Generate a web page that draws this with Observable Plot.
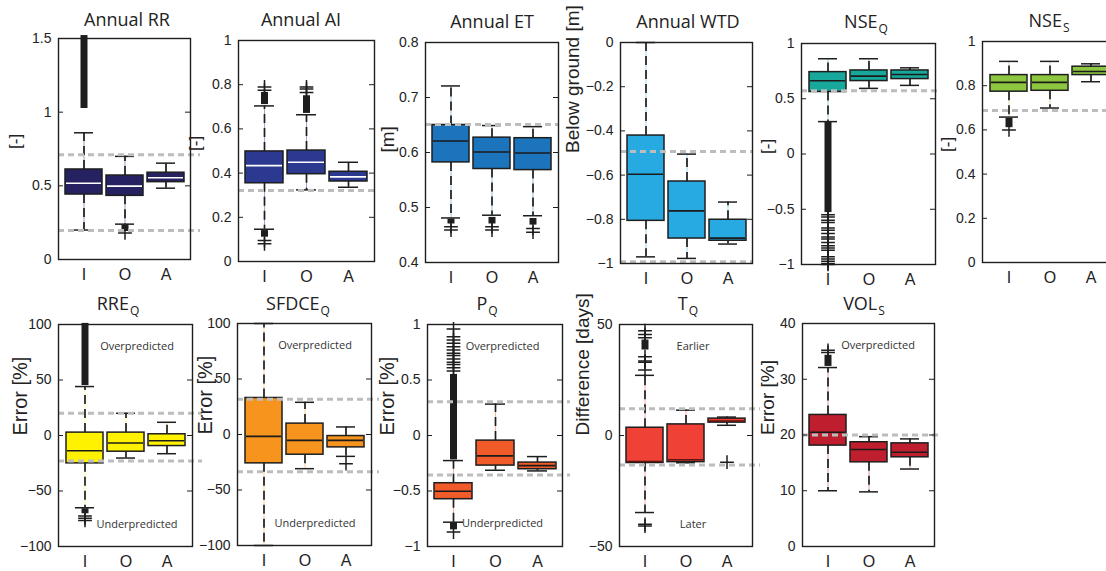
<!DOCTYPE html>
<html>
<head>
<meta charset="utf-8">
<script src="https://cdn.jsdelivr.net/npm/d3@7"></script>
<script src="https://cdn.jsdelivr.net/npm/@observablehq/plot@0.6"></script>
<style>
  body { margin: 0; background: #fff; }
  #fig { position: relative; width: 1106px; height: 571px; overflow: hidden; background: #fff; }
  .panel { position: absolute; }
  .title { position: absolute; font-family: "Open Sans", sans-serif; font-size: 18px; line-height: 18px;
           color: #222; white-space: nowrap; transform: translateX(-50%); }
  .title sub { font-size: 12px; vertical-align: -5px; line-height: 0; margin-left: 1px; }
</style>
</head>
<body>
<div id="fig"></div>
<script>
// Groups on every x axis
const groups = ["I", "O", "A"];

// Box statistics per group: [lower whisker, Q1, median, Q3, upper whisker]
const rrStats    = [[0.20, 0.441, 0.518, 0.611, 0.86], [0.24, 0.432, 0.498, 0.570, 0.70], [0.484, 0.525, 0.555, 0.589, 0.654]];
const aiStats    = [[0.146, 0.354, 0.434, 0.498, 0.704], [0.324, 0.395, 0.449, 0.502, 0.664], [0.336, 0.362, 0.383, 0.406, 0.449]];
const etStats    = [[0.481, 0.582, 0.621, 0.650, 0.721], [0.486, 0.570, 0.601, 0.627, 0.649], [0.485, 0.568, 0.599, 0.626, 0.647]];
const wtdStats   = [[-0.970, -0.807, -0.596, -0.421, 0], [-0.977, -0.887, -0.762, -0.629, -0.505], [-0.912, -0.897, -0.885, -0.802, -0.722]];
const nseqStats  = [[0.293, 0.561, 0.663, 0.741, 0.862], [0.594, 0.660, 0.705, 0.756, 0.862], [0.621, 0.678, 0.720, 0.756, 0.78]];
const nsesStats  = [[0.658, 0.773, 0.815, 0.848, 0.910], [0.699, 0.777, 0.815, 0.848, 0.910], [0.818, 0.848, 0.864, 0.886, 0.899]];
const rreStats   = [[-65.1, -25.1, -13.7, 2.6, 44.1], [-20.3, -14.6, -6.8, 2.6, 20.0], [-16.4, -9.5, -4.7, 1.1, 11.9]];
const sfdceStats = [[-100, -26.0, -1.7, 32.9, 100], [-30.8, -18.2, -5.3, 9.8, 29.0], [-19.7, -11.6, -5.3, -1.4, 6.8]];
const pqStats    = [[-0.781, -0.574, -0.502, -0.430, -0.226], [-0.313, -0.271, -0.184, -0.046, 0.283], [-0.319, -0.304, -0.271, -0.244, -0.190]];
const tqStats    = [[-34.7, -12.4, -11.7, 3.5, 27.1], [-12.3, -12.0, -10.9, 5.0, 11.4], [4.6, 5.8, 6.5, 7.6, 8.3]];
const volStats   = [[10.0, 18.1, 20.5, 23.6, 32.1], [9.8, 15.1, 17.4, 18.7, 19.7], [13.9, 16.0, 16.9, 18.5, 19.3]];

// Reference levels (grey dashed lines)
const rrRef = [0.711, 0.197];
const aiRef = [0.321];
const etRef = [0.651];
const wtdRef = [-0.493, -0.992];
const nseqRef = [0.573];
const nsesRef = [0.688];
const rreRef = [20.0, -23.0];
const sfdceRef = [31.7, -33.5];
const pqRef = [0.304, -0.355];
const tqRef = [12.1, -13.3];
const volRef = [20.0];

// Runs of outliers so dense that their markers merge: [group, from, to]
const rrBands = [["I", 1.025, 1.52], ["O", 0.19, 0.235]];
const aiBands = [["I", 0.71, 0.765], ["I", 0.11, 0.14], ["O", 0.67, 0.75]];
const etBands = [["I", 0.47, 0.479], ["O", 0.47, 0.482], ["A", 0.468, 0.48]];
const nseqBands = [["I", -0.53, 0.29]];
const nsesBands = [["I", 0.61, 0.652]];
const rreBands = [["I", 45, 101], ["I", -70.5, -66]];
const pqBands = [["I", -0.22, 0.55], ["I", -0.85, -0.785]];
const tqBands = [["I", 38.5, 43]];
const volBands = [["I", 32.3, 34.3]];

// Individual outliers: [group, value]
const rrOut = [["O", 0.18]];
const aiOut = [["I", 0.775], ["I", 0.79], ["I", 0.095], ["I", 0.08], ["O", 0.765], ["O", 0.78], ["O", 0.79]];
const etOut = [["I", 0.465], ["I", 0.459], ["O", 0.465], ["O", 0.459], ["A", 0.462], ["A", 0.455]];
const nseqOut = [-0.55, -0.57, -0.6, -0.62, -0.67, -0.69, -0.72, -0.75, -0.77, -0.8, -0.83, -0.85, -0.87, -0.93, -0.95, -0.97, -0.99, -1.0].map(v => ["I", v]);
const nsesOut = [["I", 0.60]];
const rreOut = [["I", -72.5], ["I", -74.5], ["I", -76.5]];
const sfdceOut = [["A", -26.3]];
const pqOut = [0.58, 0.61, 0.64, 0.66, 0.69, 0.72, 0.74, 0.77, 0.8, 0.83, 0.86, 0.89, 0.96, -0.87].map(v => ["I", v]);
const tqOut = [["I", 29.5], ["I", 33], ["I", 33.6], ["I", 35.5], ["I", 44], ["I", 45.5], ["I", 47.2], ["I", -40], ["I", -40.8], ["A", -12]];
const volOut = [["I", 34.8], ["I", 35.2]];

// Y-axis tick values
const ticks01 = [0, 0.2, 0.4, 0.6, 0.8, 1];
const rrTicks = [0, 0.5, 1, 1.5];
const etTicks = [0.4, 0.5, 0.6, 0.7, 0.8];
const wtdTicks = [-1, -0.8, -0.6, -0.4, -0.2, 0];
const unitTicks = [-1, -0.5, 0, 0.5, 1];
const pctTicks = [-100, -50, 0, 50, 100];
const tqTicks = [-50, 0, 50];
const volTicks = [0, 10, 20, 30, 40];

// In-panel notes: [text, y]
const errNotes = [["Overpredicted", 80], ["Underpredicted", -80]];
const pqNotes = [["Overpredicted", 0.8], ["Underpredicted", -0.79]];
const tqNotes = [["Earlier", 40], ["Later", -40]];
const volNotes = [["Overpredicted", 36]];

const panels = [
  {title: "Annual RR", tx: 127, ty: 10, left: 58, top: 38, w: 132, h: 221, domain: [0, 1.5], ticks: rrTicks, label: "[-]", lsize: 17, loff: 43,
   stats: rrStats, ref: rrRef, bands: rrBands, out: rrOut, color: "#262262", med: "#ffffff", ext: 10},
  {title: "Annual AI", tx: 301, ty: 10, left: 238, top: 40, w: 136, h: 221, domain: [0, 1], ticks: ticks01, label: "[-]", lsize: 17, loff: 43,
   stats: aiStats, ref: aiRef, bands: aiBands, out: aiOut, color: "#2b3990", med: "#ffffff", ext: 0},
  {title: "Annual ET", tx: 492, ty: 12, left: 425, top: 42, w: 133, h: 220, domain: [0.4, 0.8], ticks: etTicks, label: "[m]", lsize: 19, loff: 38,
   stats: etStats, ref: etRef, bands: etBands, out: etOut, color: "#1c75bc", med: "#1b1b1b", ext: 0},
  {title: "Annual WTD", tx: 688, ty: 12, left: 620, top: 42, w: 132, h: 221, domain: [-1, 0], ticks: wtdTicks, label: "Below ground [m]", lsize: 19, loff: 48,
   stats: wtdStats, ref: wtdRef, bands: [], out: [], color: "#27aae1", med: "#1b1b1b", ext: 0},
  {title: "NSE<sub>Q</sub>", tx: 866, ty: 12, left: 801, top: 43, w: 134, h: 221, domain: [-1, 1], ticks: unitTicks, label: "[-]", lsize: 17, loff: 34,
   stats: nseqStats, ref: nseqRef, bands: nseqBands, out: nseqOut, color: "#17a89b", med: "#1b1b1b", ext: 2},
  {title: "NSE<sub>S</sub>", tx: 1049, ty: 11, left: 982, top: 41, w: 134, h: 221, domain: [0, 1], ticks: ticks01, label: "[-]", lsize: 17, loff: 35,
   stats: nsesStats, ref: nsesRef, bands: nsesBands, out: nsesOut, color: "#8dc63f", med: "#1b1b1b", ext: 0},
  {title: "RRE<sub>Q</sub>", tx: 118, ty: 294, left: 58, top: 324, w: 134, h: 222, domain: [-100, 100], ticks: pctTicks, label: "Error [%]", lsize: 20, loff: 38,
   stats: rreStats, ref: rreRef, bands: rreBands, out: rreOut, color: "#fff200", med: "#1b1b1b", ext: 10, notes: errNotes, ndx: 11},
  {title: "SFDCE<sub>Q</sub>", tx: 298, ty: 294, left: 237, top: 323, w: 134, h: 222, domain: [-100, 100], ticks: pctTicks, label: "Error [%]", lsize: 20, loff: 32,
   stats: sfdceStats, ref: sfdceRef, bands: [], out: sfdceOut, color: "#f7941d", med: "#1b1b1b", ext: 8, notes: errNotes, ndx: 10},
  {title: "P<sub>Q</sub>", tx: 487, ty: 294, left: 427, top: 324, w: 135, h: 222, domain: [-1, 1], ticks: unitTicks, label: "Error [%]", lsize: 20, loff: 40,
   stats: pqStats, ref: pqRef, bands: pqBands, out: pqOut, color: "#f15a29", med: "#1b1b1b", ext: 8, notes: pqNotes, ndx: 7},
  {title: "T<sub>Q</sub>", tx: 688, ty: 294, left: 619, top: 324, w: 133, h: 222, domain: [-50, 50], ticks: tqTicks, label: "Difference [days]", lsize: 19, loff: 37,
   stats: tqStats, ref: tqRef, bands: tqBands, out: tqOut, color: "#ef4136", med: "#5c1510", ext: 8, notes: tqNotes, ndx: 7},
  {title: "VOL<sub>S</sub>", tx: 864, ty: 294, left: 802, top: 323, w: 132, h: 223, domain: [0, 40], ticks: volTicks, label: "Error [%]", lsize: 19, loff: 35,
   stats: volStats, ref: volRef, bands: volBands, out: volOut, color: "#be1e2d", med: "#1b1b1b", ext: 8, notes: volNotes, ndx: 9}
];

const fig = document.getElementById("fig");
const fmt = d => (d < 0 ? "\u2212" : "") + String(Math.round(Math.abs(d) * 100) / 100);
const ink = "#1e1e1e";

for (const p of panels) {
  const mL = 64, mR = 22, mT = 8, mB = 34;
  const rows = groups.map((g, i) => {
    const [lo, q1, med, q3, hi] = p.stats[i];
    return {g, lo, q1, med, q3, hi};
  });
  const bands = p.bands.map(([g, a, b]) => ({g, a, b}));
  const outs = p.out.map(([g, v]) => ({g, v}));

  const marks = [
    // whisker core line in the box colour
    Plot.ruleX(rows, {x: "g", y1: "lo", y2: "hi", stroke: p.color, strokeOpacity: 0.45, strokeWidth: 1}),
    // dashed whiskers
    Plot.ruleX(rows, {x: "g", y1: "q3", y2: "hi", stroke: ink, strokeWidth: 1.7, strokeDasharray: "9,5"}),
    Plot.ruleX(rows, {x: "g", y1: "q1", y2: "lo", stroke: ink, strokeWidth: 1.7, strokeDasharray: "9,5"}),
    // whisker caps
    Plot.tickY(rows, {x: "g", y: "hi", stroke: ink, strokeWidth: 1.5, insetLeft: 9, insetRight: 9}),
    Plot.tickY(rows, {x: "g", y: "lo", stroke: ink, strokeWidth: 1.5, insetLeft: 9, insetRight: 9}),
    // outliers
    Plot.ruleX(bands, {x: "g", y1: "a", y2: "b", stroke: ink, strokeWidth: 7}),
    Plot.dot(outs, {x: "g", y: "v", symbol: "plus", r: 4.5, stroke: ink, strokeWidth: 1.5}),
    // boxes and medians
    Plot.barY(rows, {x: "g", y1: "q1", y2: "q3", fill: p.color, stroke: ink, strokeWidth: 1.5}),
    Plot.tickY(rows, {x: "g", y: "med", stroke: p.med, strokeWidth: 1.6, insetLeft: 1, insetRight: 1}),
    // reference levels
    Plot.ruleY(p.ref, {stroke: "#bdbdbd", strokeWidth: 3, strokeDasharray: "6,4", insetRight: -p.ext}),
    Plot.frame({stroke: ink, strokeWidth: 1.4}),
    // inward ticks on both sides
    Plot.ruleY(p.ticks, {stroke: ink, strokeWidth: 1, insetRight: p.w - 5}),
    Plot.ruleY(p.ticks, {stroke: ink, strokeWidth: 1, insetLeft: p.w - 5}),
    Plot.axisY(p.ticks, {tickSize: 0, tickPadding: 7, tickFormat: fmt, fontSize: 14, label: null}),
    Plot.axisX({tickSize: 0, tickPadding: 9, fontSize: 16, label: null}),
    Plot.text([p.label], {text: d => d, frameAnchor: "left", rotate: -90, dx: -p.loff, fontSize: p.lsize})
  ];
  if (p.notes) {
    marks.push(Plot.text(p.notes, {x: () => "O", y: d => d[1], text: d => d[0], dx: p.ndx,
      fontFamily: "'Open Sans', sans-serif", fontSize: 11, fill: "#333"}));
  }

  const chart = Plot.plot({
    width: mL + p.w + mR,
    height: mT + p.h + mB,
    marginLeft: mL, marginRight: mR, marginTop: mT, marginBottom: mB,
    style: {fontFamily: "'Liberation Sans', Arial, sans-serif", color: "#222", background: "transparent", overflow: "visible"},
    x: {type: "band", domain: groups, paddingInner: 0.1, paddingOuter: 0.15},
    y: {domain: p.domain},
    marks
  });
  chart.classList.add("panel");
  chart.style.left = (p.left - mL) + "px";
  chart.style.top = (p.top - mT) + "px";
  fig.appendChild(chart);

  const t = document.createElement("div");
  t.className = "title";
  t.innerHTML = p.title;
  t.style.left = p.tx + "px";
  t.style.top = p.ty + "px";
  fig.appendChild(t);
}
</script>
</body>
</html>
